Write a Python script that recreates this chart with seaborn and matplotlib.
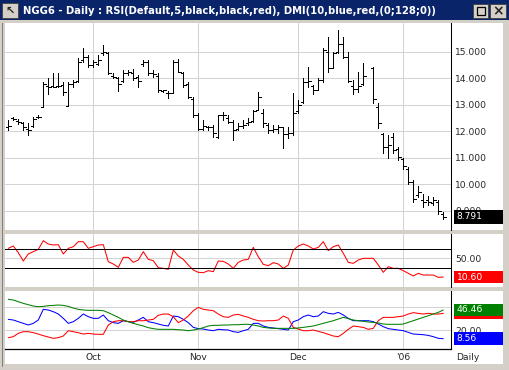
import numpy as np
import pandas as pd
import matplotlib
matplotlib.use("Agg")
import matplotlib.pyplot as plt
import matplotlib.transforms as mtransforms
from matplotlib.patches import Rectangle
import seaborn as sns

# ==========================================
# DATA
# ==========================================
nan = np.nan
price_open = [12.15, 12.50, 12.40, 12.30, 12.10, 12.20, 12.55, 12.93, 13.70, 13.70,
              13.70, 13.75, 12.95, 13.80, 13.90, 14.70, 14.80, 14.50, 14.55, 14.95,
              14.95, 14.10, 14.00, 13.90, 14.20, 14.20, 14.05, 14.55, 14.60, 14.20,
              14.10, 13.52, 13.45, 13.45, 14.60, 14.20, 13.80, 13.20, 12.60, 12.10,
              12.15, 12.15, 11.80, 12.60, 12.50, 12.35, 12.10, 12.20, 12.30, 12.40,
              12.80, 12.70, 12.25, 12.05, 12.10, 12.15, 11.90, 11.95, 12.75, 13.10,
              13.85, 13.70, 13.55, 13.95, 15.00, 14.40, 15.00, 15.30, 14.80, 13.70,
              13.60, 13.80, nan, 14.40, 12.90, 11.90, 11.40, 11.80, 11.35, 10.95,
              10.60, 10.10, 9.60, 9.40, 9.40, 9.30, 9.35, 8.90]
price_high = [12.43, 12.55, 12.45, 12.35, 12.30, 12.55, 12.62, 13.87, 14.00, 14.21,
              14.19, 13.87, 13.85, 13.93, 14.75, 15.13, 14.88, 14.69, 14.88, 15.25,
              14.98, 14.19, 14.06, 14.31, 14.31, 14.34, 14.12, 14.69, 14.69, 14.31,
              14.19, 13.56, 13.53, 14.69, 14.73, 14.24, 13.87, 13.28, 12.68, 12.43,
              12.20, 12.24, 12.62, 12.74, 12.62, 12.43, 12.33, 12.43, 12.51, 12.80,
              13.49, 12.84, 12.30, 12.24, 12.24, 12.18, 12.18, 13.43, 13.18, 14.00,
              14.44, 13.74, 14.00, 15.13, 15.57, 15.00, 15.82, 15.57, 15.00, 13.93,
              14.24, 14.56, nan, 14.44, 13.05, 11.93, 11.86, 11.93, 11.42, 10.98,
              10.66, 10.18, 9.93, 9.65, 9.55, 9.53, 9.40, 8.96]
price_low = [12.05, 12.43, 12.28, 12.05, 11.86, 12.18, 12.50, 12.90, 13.41, 13.66,
             13.68, 13.37, 12.95, 13.68, 13.85, 14.62, 14.44, 14.44, 14.50, 14.88,
             14.16, 14.00, 13.53, 13.87, 14.12, 13.93, 13.68, 14.47, 14.12, 14.06,
             13.49, 13.49, 13.24, 13.43, 14.22, 13.68, 13.24, 12.55, 12.05, 12.05,
             12.05, 11.80, 11.74, 12.43, 12.30, 11.67, 12.05, 12.11, 12.24, 12.37,
             12.80, 12.18, 11.93, 11.99, 11.93, 11.36, 11.74, 11.86, 12.68, 13.05,
             13.68, 13.41, 13.55, 13.87, 14.24, 14.37, 14.94, 14.75, 13.87, 13.41,
             13.49, 13.74, nan, 13.05, 12.11, 11.17, 10.98, 11.17, 10.92, 10.60,
             10.03, 9.34, 9.53, 9.15, 9.21, 9.21, 8.90, 8.70]
price_close = [12.20, 12.45, 12.35, 12.15, 12.05, 12.45, 12.55, 13.80, 13.68, 13.68,
               13.70, 13.50, 13.80, 13.85, 14.62, 14.80, 14.50, 14.62, 14.70, 14.98,
               14.20, 14.05, 13.80, 14.20, 14.25, 14.00, 13.90, 14.60, 14.20, 14.15,
               13.55, 13.55, 13.45, 14.60, 14.25, 13.75, 13.30, 12.60, 12.10, 12.20,
               12.15, 11.95, 12.60, 12.60, 12.35, 12.05, 12.20, 12.25, 12.35, 12.75,
               13.30, 12.30, 12.05, 12.10, 12.15, 11.90, 11.95, 12.70, 13.00, 13.85,
               13.90, 13.55, 13.95, 15.05, 14.40, 14.95, 15.30, 14.80, 13.90, 13.60,
               13.70, 14.10, nan, 13.20, 12.30, 11.40, 11.50, 11.30, 11.05, 10.70,
               10.10, 9.45, 9.70, 9.35, 9.35, 9.40, 9.00, 8.791]

rsi_values = [71.0, 75.9, 61.9, 44.3, 59.1, 64.0, 68.9, 87.1, 80.1, 78.0,
              78.7, 59.1, 71.0, 74.5, 85.0, 85.0, 71.0, 74.5, 78.0, 78.7,
              42.9, 38.0, 31.0, 52.0, 52.0, 41.5, 46.4, 64.0, 47.8, 45.0,
              30.3, 28.9, 26.8, 67.5, 54.8, 47.8, 35.9, 25.4, 20.5, 19.7,
              24.0, 21.9, 44.3, 43.6, 38.0, 28.9, 41.5, 46.4, 47.8, 73.1,
              53.4, 37.3, 34.5, 40.8, 38.0, 28.9, 35.9, 67.5, 75.9, 80.1,
              75.9, 69.6, 73.1, 85.0, 66.1, 74.5, 78.0, 60.5, 41.5, 39.4,
              46.4, 50.0, 50.0, 50.0, 35.9, 20.5, 32.4, 28.9, 28.9, 24.0,
              18.4, 12.7, 18.4, 14.8, 14.8, 14.8, 10.0, 10.6]

dmi_plus = [34.1, 33.2, 31.0, 28.8, 26.6, 28.8, 33.2, 47.3, 46.4, 44.2,
            41.1, 35.4, 28.8, 31.0, 35.4, 41.1, 37.6, 35.4, 35.4, 39.8,
            32.3, 29.7, 28.8, 32.3, 31.0, 30.1, 33.2, 36.7, 31.0, 29.7,
            27.9, 26.2, 25.3, 38.5, 37.6, 34.1, 29.7, 23.5, 21.8, 21.3,
            20.0, 19.1, 20.9, 20.4, 20.0, 17.8, 16.9, 19.1, 20.9, 28.8,
            28.8, 25.3, 23.5, 22.7, 21.8, 20.9, 20.0, 31.0, 33.2, 37.6,
            39.8, 37.6, 38.5, 44.2, 42.0, 41.1, 43.3, 39.8, 35.4, 32.3,
            32.3, 32.3, 32.3, 31.0, 27.9, 24.4, 21.8, 20.9, 20.0, 19.1,
            16.9, 14.7, 14.3, 13.8, 12.9, 11.2, 9.0, 8.56]
dmi_minus = [9.9, 11.2, 15.6, 17.8, 17.8, 16.5, 14.7, 12.5, 10.8, 9.0,
             9.9, 12.1, 19.1, 17.8, 16.5, 14.7, 15.6, 14.7, 14.3, 14.3,
             26.6, 31.0, 32.3, 32.3, 31.0, 31.0, 32.3, 32.3, 33.2, 34.1,
             39.4, 41.1, 41.1, 37.6, 29.7, 33.2, 38.5, 45.5, 49.9, 47.3,
             46.4, 45.5, 41.1, 37.6, 36.7, 39.8, 40.7, 38.5, 36.7, 34.1,
             32.3, 31.9, 32.3, 32.3, 33.2, 38.5, 35.4, 23.5, 21.3, 19.1,
             19.1, 20.0, 18.2, 16.5, 14.3, 12.1, 11.2, 15.6, 20.9, 25.3,
             24.4, 23.5, 20.9, 22.2, 32.3, 36.7, 36.7, 36.7, 37.6, 38.5,
             41.1, 42.9, 42.0, 41.1, 42.0, 41.1, 41.1, 42.0]
adx_values = [60.5, 59.6, 57.4, 55.2, 53.4, 51.7, 50.8, 51.2, 52.1, 52.5,
              53.0, 52.5, 51.2, 49.0, 47.3, 46.4, 46.0, 46.0, 46.0, 45.5,
              42.9, 39.8, 36.7, 33.2, 31.0, 28.8, 27.0, 25.3, 23.1, 21.8,
              20.9, 20.9, 20.9, 20.9, 20.4, 20.0, 19.1, 20.0, 21.3, 23.1,
              25.3, 26.2, 26.2, 26.6, 26.6, 27.0, 27.0, 27.5, 27.5, 26.6,
              25.3, 23.5, 22.7, 22.2, 22.2, 22.2, 22.2, 22.2, 22.7, 23.5,
              24.4, 25.3, 27.0, 28.8, 30.6, 32.3, 34.5, 36.7, 35.0, 33.2,
              32.3, 31.5, 30.6, 30.1, 29.3, 27.9, 27.5, 27.5, 27.5, 27.9,
              30.1, 32.3, 34.5, 36.7, 38.9, 41.1, 43.3, 46.46]

month_ticks = [17, 38, 58, 79]
month_labels = ["Oct", "Nov", "Dec", "'06"]
price_ticks = [9, 10, 11, 12, 13, 14, 15]
rsi_bands = [30, 70]
dmi_grid = [20, 50]
title = "NGG6 - Daily : RSI(Default,5,black,black,red), DMI(10,blue,red,(0;128;0))"

df = pd.DataFrame({
    "bar": np.arange(len(price_close)),
    "open": price_open, "high": price_high, "low": price_low, "close": price_close,
    "rsi": rsi_values, "plus_di": dmi_plus, "minus_di": dmi_minus, "adx": adx_values,
})

# ==========================================
# WINDOW FRAME
# ==========================================
sns.set_style("white")
plt.rcParams["font.family"] = ["DejaVu Sans"]
W, H = 510, 370
FS = 6.6
LW = 0.55
IND_LW = 0.75
GRID = "#d4d4d4"
FACE = "#d4d0c8"

fig = plt.figure(figsize=(W / 100, H / 100), dpi=100, facecolor=FACE)


def frame(x0, y0, x1, y1):
    return [x0 / W, 1 - y1 / H, (x1 - x0) / W, (y1 - y0) / H]


def fig_rect(x0, y0, x1, y1, color, edge="none", lw=0.0, z=-5):
    fig.patches.append(Rectangle((x0 / W, 1 - y1 / H), (x1 - x0) / W, (y1 - y0) / H,
                                 transform=fig.transFigure, facecolor=color,
                                 edgecolor=edge, linewidth=lw, zorder=z))


fig_rect(0, 0, W, 20, "#0a246a")
fig_rect(2, 23, 3.2, 367, "#808080")
fig_rect(5, 23, 503, 230, "white")
fig_rect(5, 234, 503, 287, "white")
fig_rect(5, 291, 503, 364, "white")

# title bar buttons
fig_rect(2, 3, 18, 18, FACE, "#404040", 0.6)
fig.text(10 / W, 1 - 10.5 / H, "\u2196", fontsize=8, fontweight="bold", ha="center", va="center")
fig_rect(473, 4, 488, 18, FACE, "#404040", 0.6)
fig_rect(477, 7, 485, 15, "none", "black", 0.9)
fig_rect(490, 4, 506, 18, FACE, "#404040", 0.6)
fig.text(498 / W, 1 - 11 / H, "\u00d7", fontsize=10, fontweight="bold", ha="center", va="center")
fig.text(23 / W, 1 - 11 / H, title, color="white", fontsize=7.2, fontweight="bold", va="center")

XLIM = (-0.66, 88.54)
LABEL_X = (454 - 5) / 446
BOX_X1 = (503 - 5) / 446


def style_panel(ax, ylim, yticks, ylabels):
    ax.set_xlim(*XLIM)
    ax.set_ylim(*ylim)
    ax.set_facecolor("none")
    ax.set_xticks(month_ticks)
    ax.set_yticks(yticks)
    ax.set_yticklabels(ylabels)
    ax.yaxis.tick_right()
    ax.tick_params(axis="both", length=0, labelsize=FS, pad=2.9)
    ax.tick_params(axis="x", labelbottom=False)
    ax.grid(True, color=GRID, linewidth=0.75)
    ax.set_axisbelow(True)
    for side in ["left", "top", "bottom"]:
        ax.spines[side].set_visible(False)
    ax.spines["right"].set_color("black")
    ax.spines["right"].set_linewidth(0.75)
    ax.set_xlabel("")
    ax.set_ylabel("")


def value_box(ax, value, text, color, h_px):
    trans = mtransforms.blended_transform_factory(ax.transAxes, ax.transData)
    lo, hi = ax.get_ylim()
    ppu = ax.get_position().height * H / (hi - lo)
    h = h_px / ppu
    ax.add_patch(Rectangle((LABEL_X, value - h / 2), BOX_X1 - LABEL_X, h, transform=trans,
                           facecolor=color, edgecolor="none", clip_on=False, zorder=5))
    if text:
        ax.text(LABEL_X + 2.5 / 446, value, text, transform=trans, color="white", fontsize=FS,
                va="center", ha="left", clip_on=False, zorder=6)


# ==========================================
# PRICE PANEL (OHLC bars)
# ==========================================
ax_p = fig.add_axes(frame(5, 23, 451, 230))
bars = df.dropna(subset=["high"])
ax_p.vlines(bars["bar"], bars["low"], bars["high"], color="black", linewidth=LW, antialiased=False)
ax_p.hlines(bars["open"], bars["bar"] - 0.45, bars["bar"], color="black", linewidth=LW, antialiased=False)
ax_p.hlines(bars["close"], bars["bar"], bars["bar"] + 0.45, color="black", linewidth=LW, antialiased=False)
style_panel(ax_p, (8.284, 16.08), price_ticks, [f"{v:.3f}" for v in price_ticks])
value_box(ax_p, price_close[-1], f"{price_close[-1]:.3f}", "black", 14)

# ==========================================
# RSI PANEL
# ==========================================
ax_r = fig.add_axes(frame(5, 234, 451, 287))
sns.lineplot(data=df, x="bar", y="rsi", ax=ax_r, color="red", linewidth=IND_LW)
for lvl in rsi_bands:
    ax_r.axhline(lvl, color="black", linewidth=LW, antialiased=False)
style_panel(ax_r, (-10.4, 101.2), [50], ["50.00"])
value_box(ax_r, rsi_values[-1], f"{rsi_values[-1]:.2f}", "red", 12)

# ==========================================
# DMI PANEL
# ==========================================
ax_d = fig.add_axes(frame(5, 291, 451, 348.5))
sns.lineplot(data=df, x="bar", y="plus_di", ax=ax_d, color="blue", linewidth=IND_LW)
sns.lineplot(data=df, x="bar", y="minus_di", ax=ax_d, color="red", linewidth=IND_LW)
sns.lineplot(data=df, x="bar", y="adx", ax=ax_d, color="#008000", linewidth=IND_LW)
style_panel(ax_d, (-4.4, 71.5), dmi_grid, [f"{v:.2f}" for v in dmi_grid])
ax_d.spines["bottom"].set_visible(True)
ax_d.spines["bottom"].set_color("black")
ax_d.spines["bottom"].set_linewidth(0.9)
ax_d.tick_params(axis="x", labelbottom=True, pad=3.2)
ax_d.set_xticklabels(month_labels)
value_box(ax_d, dmi_minus[-1], "", "red", 12)
value_box(ax_d, adx_values[-1], f"{adx_values[-1]:.2f}", "#008000", 12)
value_box(ax_d, dmi_plus[-1], f"{dmi_plus[-1]:.2f}", "blue", 13)
fig.text(468 / W, 1 - 357.5 / H, "Daily", fontsize=FS, ha="center", va="center")

fig.savefig("out.png", dpi=100, facecolor=FACE)
